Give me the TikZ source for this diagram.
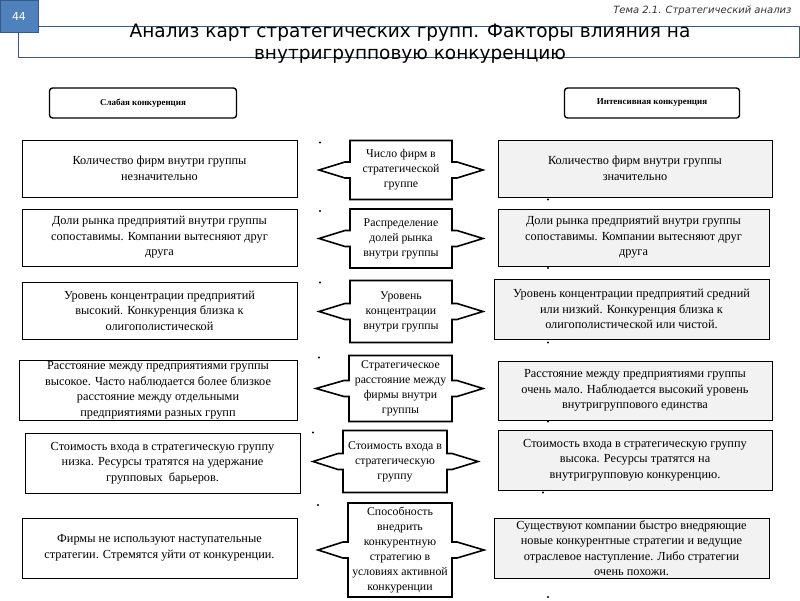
\documentclass[tikz,border=0pt]{standalone}
\usepackage{fontspec}
\setmainfont{Liberation Serif}
\newfontfamily\titlefont{DejaVu Sans}
\usetikzlibrary{calc}
\definecolor{slideblue}{HTML}{4F81BD}
\definecolor{boxgray}{HTML}{F2F2F2}
% outline of a box with a point on each side
\newcommand{\sidetips}[3]{%
\draw[line width=1.6pt, line join=miter, fill=white] (#1.north west) -- (#1.north east) -- ([yshift=8pt]#1.east) -- ([shift={(5pt,8pt)}]#1.east) -- ([xshift=#3pt]#1.east) -- ([shift={(5pt,-8pt)}]#1.east) -- ([yshift=-8pt]#1.east) -- (#1.south east) -- (#1.south west) -- ([yshift=-8pt]#1.west) -- ([shift={(-5pt,-8pt)}]#1.west) -- ([xshift=-#2pt]#1.west) -- ([shift={(-5pt,8pt)}]#1.west) -- ([yshift=8pt]#1.west) -- cycle;
\node[factorbox, minimum width=0pt, minimum height=0pt] at (#1.center) {\csname tiptext#1\endcsname};
\fill ([shift={(-30pt,-2pt)}]#1.north west) circle (1.2pt);
\fill ([xshift=96pt]#1.south east) circle (1.2pt);
}
\begin{document}
\begin{tikzpicture}[x=1pt, y=-1pt,
  sidebox/.style={draw, line width=0.9pt, align=center, inner sep=1pt, font=\fontsize{12.3}{15.5}\selectfont},
  rightbox/.style={sidebox, fill=boxgray},
  factorbox/.style={align=center, inner sep=0pt, outer sep=0pt, font=\fontsize{11.8}{15}\selectfont},
  headbox/.style={draw, line width=1.4pt, rounded corners=3pt, font=\bfseries\fontsize{9}{11}\selectfont}]
\useasboundingbox (0,0) rectangle (800,600);
\fill[white] (0,0) rectangle (800,600);
% heading
\draw[slideblue!70!black, line width=1pt] (18,26) rectangle (799,57);
\node[fill=slideblue, draw=slideblue!70!black, minimum width=38pt, minimum height=32pt, text=white, font=\titlefont\fontsize{11}{13}\selectfont] (num) at (19,16) {44};
\node[anchor=east, font=\titlefont\itshape\fontsize{10}{12}\selectfont, text=black!80] (topic) at (795,11) {Тема 2.1. Стратегический анализ};
\node[align=center, font=\titlefont\fontsize{18.5}{22}\selectfont] (title) at (410,44) {Анализ карт стратегических групп. Факторы влияния на\\внутригрупповую конкуренцию};
\node[headbox, minimum width=187pt, minimum height=30pt] (weak) at (143,103) {Слабая конкуренция};
\node[headbox, minimum width=175pt, minimum height=30pt] (strong) at (652,103) {Интенсивная конкуренция};
% left column
\node[sidebox, minimum width=275pt, minimum height=57pt] (l1) at (159.5,168.5) {Количество фирм внутри группы\\незначительно};
\node[sidebox, minimum width=275pt, minimum height=57pt] (l2) at (159.5,237.5) {Доли рынка предприятий внутри группы\\сопоставимы. Компании вытесняют друг\\друга};
\node[sidebox, minimum width=275pt, minimum height=57pt] (l3) at (159.5,310.5) {Уровень концентрации предприятий\\высокий. Конкуренция близка к\\олигополистической};
\node[sidebox, minimum width=278pt, minimum height=59pt] (l4) at (158,390.5) {Расстояние между предприятиями группы\\высокое. Часто наблюдается более близкое\\расстояние между отдельными\\предприятиями разных групп};
\node[sidebox, minimum width=275pt, minimum height=60pt] (l5) at (162.5,463) {Стоимость входа в стратегическую группу\\низка. Ресурсы тратятся на удержание\\групповых \ барьеров.};
\node[sidebox, minimum width=275pt, minimum height=60pt] (l6) at (159.5,548) {Фирмы не используют наступательные\\стратегии. Стремятся уйти от конкуренции.};
% right column
\node[rightbox, minimum width=274pt, minimum height=57pt] (r1) at (635,168.5) {Количество фирм внутри группы\\значительно};
\node[rightbox, minimum width=271pt, minimum height=57pt] (r2) at (633.5,237.5) {Доли рынка предприятий внутри группы\\сопоставимы. Компании вытесняют друг\\друга};
\node[rightbox, minimum width=275pt, minimum height=60pt] (r3) at (631.5,309) {Уровень концентрации предприятий средний\\или низкий. Конкуренция близка к\\олигополистической или чистой.};
\node[rightbox, minimum width=274pt, minimum height=59pt] (r4) at (635,390.5) {Расстояние между предприятиями группы\\очень мало. Наблюдается высокий уровень\\внутригруппового единства};
\node[rightbox, minimum width=274pt, minimum height=60pt] (r5) at (635,460) {Стоимость входа в стратегическую группу\\высока. Ресурсы тратятся на\\внутригрупповую конкуренцию.};
\node[rightbox, minimum width=275pt, minimum height=60pt] (r6) at (631.5,548) {Существуют компании быстро внедряющие\\новые конкурентные стратегии и ведущие\\отраслевое наступление. Либо стратегии\\очень похожи.};
% factors in the middle
\coordinate[label={[factorbox, minimum width=102pt, minimum height=59pt, name=m1]center:{}}] (m1c) at (401,170);
\node[factorbox, minimum width=102pt, minimum height=59pt] (m1) at (401,170) {};
\node[factorbox, minimum width=102pt, minimum height=59pt] (m2) at (401,238.5) {};
\node[factorbox, minimum width=102pt, minimum height=62pt] (m3) at (401,311.5) {};
\node[factorbox, minimum width=103pt, minimum height=66pt] (m4) at (400.5,388.5) {};
\node[factorbox, minimum width=104pt, minimum height=62pt] (m5) at (395,461.5) {};
\node[factorbox, minimum width=104pt, minimum height=94pt] (m6) at (400,550) {};
\expandafter\def\csname tiptextm1\endcsname{Число фирм в\\стратегической\\группе}
\expandafter\def\csname tiptextm2\endcsname{Распределение\\долей рынка\\внутри группы}
\expandafter\def\csname tiptextm3\endcsname{Уровень\\концентрации\\внутри группы}
\expandafter\def\csname tiptextm4\endcsname{Стратегическое\\расстояние между\\фирмы внутри\\группы}
\expandafter\def\csname tiptextm5\endcsname{Стоимость входа в\\стратегическую\\группу}
\expandafter\def\csname tiptextm6\endcsname{Способность\\внедрить\\конкурентную\\стратегию в\\условиях активной\\конкуренции}
\sidetips{m1}{31}{31}
\sidetips{m2}{31}{31}
\sidetips{m3}{31}{31}
\sidetips{m4}{33}{31}
\sidetips{m5}{30}{31}
\sidetips{m6}{30}{32}
\end{tikzpicture}
\end{document}
